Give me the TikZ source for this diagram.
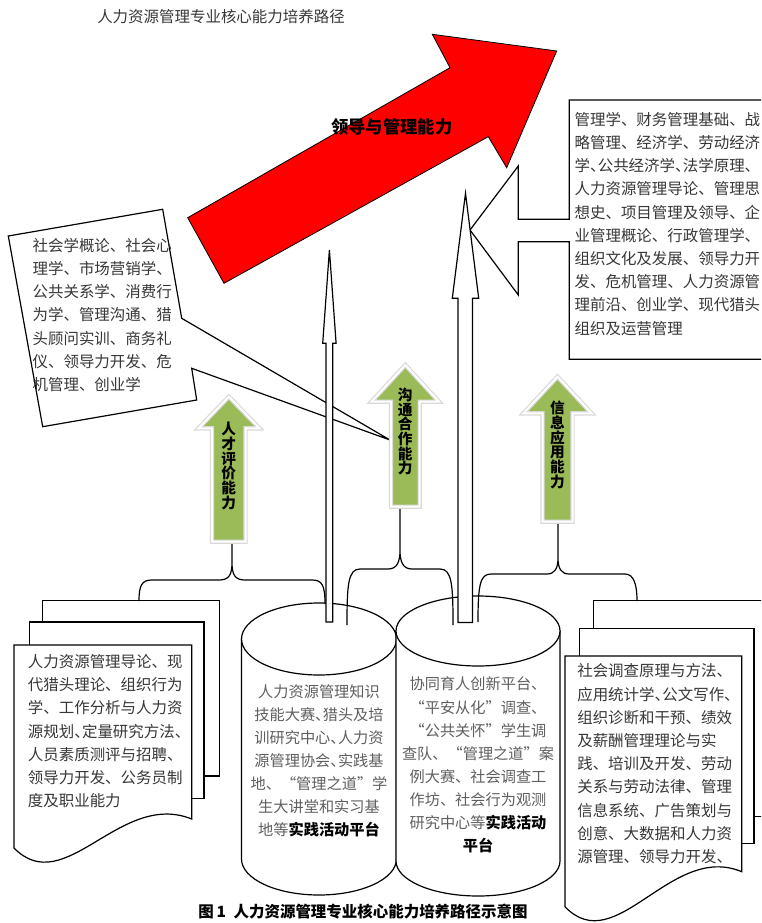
\documentclass[tikz,border=0pt]{standalone}
\usepackage{fontspec}
\setmainfont{Noto Sans CJK SC}
\usetikzlibrary{arrows}
\usetikzlibrary{positioning,shapes,fit}
\usepackage{xcolor}
\definecolor{arrowred}{RGB}{255,0,0}
\definecolor{arrowgreen}{RGB}{155,187,89}
\definecolor{textgray}{RGB}{55,55,55}
\definecolor{softgray}{RGB}{95,95,95}
\newcommand{\dun}{\makebox[.5em][l]{、}}

\begin{document}
\begin{tikzpicture}[%
      x=0.75pt, y=-0.75pt, line width=0.9pt, line join=miter,
      every node/.style={inner sep=0pt, text=textgray},
      body/.style={font=\fontsize{11.6}{17.4}\selectfont, align=left, anchor=west},
      wbox/.style={draw=black, fill=white},
      upblock/.style={fill=arrowgreen, draw=black!15, double=white, double distance=1.5pt},
      vtext/.style={font=\bfseries\fontsize{11}{11}\selectfont, align=center, text=black},
      plat/.style={font=\fontsize{11.4}{17.3}\selectfont, align=center, text=softgray}
    ]
    \useasboundingbox (0,0) rectangle (761,923);
    \clip (0,0) rectangle (761,923);

    \node [] (title) at (221,17) [font=\fontsize{11.6}{14}\selectfont] {人力资源管理专业核心能力培养路径};

    \draw [fill=arrowred, line width=0.6pt] (187.7,217.7) -- (450,67.7) -- (432.3,34.3) -- (556.7,51)
      -- (506.7,167.7) -- (488.3,136.7) -- (224,283.3) -- cycle;
    \node [] (lead) at (391.7,126.7) [font=\bfseries\fontsize{13}{14}\selectfont, text=black] {领导与管理能力};

    \draw [wbox] (8.3,236) -- (162.7,209.3) -- (181.7,318.3) -- (390,440) -- (191.7,368.3)
      -- (196.7,400) -- (42.7,426.7) -- cycle;
    \node [] (lc) at (32,315) [body] {社会学概论、社会心\\理学、市场营销学、\\公共关系学、消费行\\为学、管理沟通、猎\\头顾问实训、商务礼\\仪、领导力开发、危\\机管理、创业学};

    \draw [wbox] (569.3,100) -- (775,100) -- (775,359.3) -- (569.3,359.3) -- (569.3,241.7) -- (518.3,241.7)
      -- (518.3,295) -- (470,230) -- (518.3,166) -- (518.3,219.3) -- (569.3,219.3) -- cycle;
    \node [] (rc) at (574,223.7) [body] {管理学、财务管理基础、战\\略管理、经济学、劳动经济\\学\dun 公共经济学\dun 法学原理、\\人力资源管理导论、管理思\\想史、项目管理及领导、企\\业管理概论、行政管理学、\\组织文化及发展、领导力开\\发、危机管理、人力资源管\\理前沿、创业学、现代猎头\\组织及运营管理};

    \draw [wbox] (241.5,639) -- (241.5,859) arc[start angle=180, end angle=360, x radius=58.1pt, y radius=27pt] -- (396.5,639) -- cycle;
    \draw [wbox] (319,639) ellipse [x radius=58.1pt, y radius=27pt];
    \draw [wbox] (396,631) -- (396,861) arc[start angle=180, end angle=360, x radius=61.5pt, y radius=26.25pt] -- (560,631) -- cycle;
    \draw [wbox] (478,631) ellipse [x radius=61.5pt, y radius=26.25pt];
    \node [] (p1) at (319,761) [plat] {人力资源管理知识\\技能大赛\dun 猎头及培\\训研究中心\dun 人力资\\源管理协会\dun 实践基\\地、“管理之道”学\\生大讲堂和实习基\\地等{\bfseries\color{black}实践活动平台}};
    \node [] (p2) at (478,765) [plat] {协同育人创新平台、\\“平安从化”调查、\\“公共关怀”学生调\\查队、“管理之道”案\\例大赛、社会调查工\\作坊、社会行为观测\\研究中心等{\bfseries\color{black}实践活动}\\{\bfseries\color{black}平台}};

    \draw [wbox] (42.7,600.7) rectangle (219.3,776);
    \draw [wbox] (29.3,622) rectangle (204,798.3);
    \draw [wbox] (14,645) -- (191.7,645) -- (191.7,819) .. controls (120,790) and (65,900) .. (14,848) -- cycle;
    \node [] (ld) at (27.3,731.2) [body] {人力资源管理导论、现\\代猎头理论、组织行为\\学、工作分析与人力资\\源规划\dun 定量研究方法、\\人员素质测评与招聘、\\领导力开发、公务员制\\度及职业能力};

    \draw [wbox] (593.3,600.7) rectangle (780,816.7);
    \draw [wbox] (579.3,628.3) rectangle (754,843.3);
    \draw [wbox] (565,656) -- (741.7,656) -- (741.7,871.7) .. controls (671,842) and (616,960) .. (565,906.7) -- cycle;
    \node [] (rd) at (576.7,763.8) [body] {社会调查原理与方法、\\应用统计学\dun 公文写作、\\组织诊断和干预、绩效\\及薪酬管理理论与实\\践、培训及开发、劳动\\关系与劳动法律、管理\\信息系统、广告策划与\\创意、大数据和人力资\\源管理、领导力开发、};

    \draw (139,601) .. controls (139,585) and (142,580) .. (152,580) -- (219,580) .. controls (229,580) and (232,575) .. (232,562) -- (232,543)
      (232,562) .. controls (232,575) and (235,580) .. (245,580) -- (312,580) .. controls (322,580) and (325,585) .. (325,604);
    \draw (347,625) .. controls (347,585) and (348,569) .. (360,569) -- (388,569) .. controls (397,569) and (400,562) .. (400,550) -- (400,508)
      (400,550) .. controls (400,562) and (403,569) .. (412,569) -- (440,569) .. controls (452,569) and (453,585) .. (453,625);
    \draw (478,622) .. controls (478,585) and (480,574) .. (491,574) -- (547,574) .. controls (555,574) and (558,568) .. (558,558) -- (558,523)
      (558,558) .. controls (558,568) and (561,574) .. (569,574) -- (625,574) .. controls (634,574) and (637,585) .. (637,601);

    \draw [upblock] (212,541.7) -- (212,428.3) -- (198.5,428.3) -- (228.8,396.7) -- (259.5,428.3) -- (245.5,428.3) -- (245.5,541.7) -- cycle;
    \draw [upblock] (391,506.7) -- (391,401.7) -- (371.5,401.7) -- (405.3,365) -- (439,401.7) -- (419.7,401.7) -- (419.7,506.7) -- cycle;
    \draw [upblock] (542.5,521.7) -- (542.5,413.3) -- (523.5,413.3) -- (557.5,376.7) -- (591.5,413.3) -- (572.5,413.3) -- (572.5,521.7) -- cycle;
    \node [] (g1) at (228.8,466) [vtext] {人\\才\\评\\价\\能\\力};
    \node [] (g2) at (405.3,431.5) [vtext] {沟\\通\\合\\作\\能\\力};
    \node [] (g3) at (557.5,445) [vtext] {信\\息\\应\\用\\能\\力};

    \draw [wbox] (326,622) -- (326,343.3) -- (322.7,343.3) -- (329.4,250) -- (336.1,343.3) -- (332.8,343.3) -- (332.8,622) -- cycle;
    \draw [wbox] (458,622.5) -- (458,298.3) -- (452.3,298.3) -- (465.5,193.3) -- (478.7,298.3) -- (472.5,298.3) -- (472.5,622.5) -- cycle;

    \node [] (cap) at (363,912) [font=\bfseries\fontsize{11.6}{14}\selectfont, text=black] {图\,1\enspace 人力资源管理专业核心能力培养路径示意图};
  \end{tikzpicture}
\end{document}
